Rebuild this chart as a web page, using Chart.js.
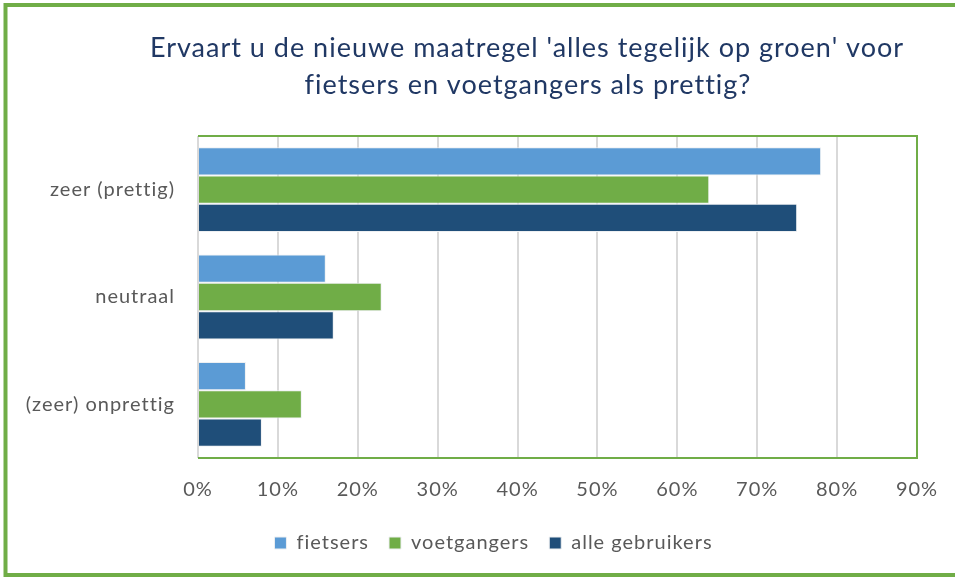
<!DOCTYPE html>
<html>
<head>
<meta charset="utf-8">
<script src="https://cdn.jsdelivr.net/npm/chart.js@4"></script>
<style>
  html, body { margin: 0; padding: 0; background: #fff; }
  #wrap { width: 955px; height: 577px; }
</style>
</head>
<body>
<div id="wrap"><canvas id="maatregelChart" width="955" height="577"></canvas></div>
<script>
// categorieen en percentages per groep
const categorieen = ['zeer (prettig)', 'neutraal', '(zeer) onprettig'];
const fietsers = [78, 16, 6];
const voetgangers = [64, 23, 13];
const alleGebruikers = [75, 17, 8];
const xTicks = [0, 10, 20, 30, 40, 50, 60, 70, 80, 90];
const titelRegels = ["Ervaart u de nieuwe maatregel 'alles tegelijk op groen' voor", 'fietsers en voetgangers als prettig?'];

const groen = '#70ad47';
const grijsTekst = '#595959';

// iets ruimere letters, zoals in het origineel (Calibri)
const spatiePlugin = {
    id: 'spatie',
    beforeLayout(chart) { chart.ctx.letterSpacing = '1px'; },
    afterLayout(chart) {
        // legenda iets naar rechts, zoals in het origineel
        chart.legend.left += 35;
        chart.legend.right += 35;
    },
    beforeDraw(chart) { chart.ctx.letterSpacing = '1px'; }
};

// kaders en titel tekenen
const kaderPlugin = {
    id: 'kader',
    beforeDraw(chart) {
        const ctx = chart.ctx;
        ctx.save();
        ctx.strokeStyle = groen;
        ctx.lineWidth = 4;
        ctx.beginPath();
        ctx.moveTo(960, 5);
        ctx.lineTo(5.5, 5);
        ctx.lineTo(5.5, 575);
        ctx.lineTo(960, 575);
        ctx.stroke();

        // titel
        ctx.fillStyle = '#203864';
        ctx.font = '27px Lato';
        ctx.textAlign = 'center';
        ctx.textBaseline = 'middle';
        ctx.fillText(titelRegels[0], 527, 48);
        ctx.fillText(titelRegels[1], 528, 85);
        ctx.restore();
    },
    afterDatasetsDraw(chart) {
        const { ctx, chartArea: a } = chart;
        ctx.save();
        ctx.strokeStyle = groen;
        ctx.lineWidth = 2;
        ctx.beginPath();
        ctx.moveTo(a.left, a.top);
        ctx.lineTo(a.right, a.top);
        ctx.lineTo(a.right, a.bottom);
        ctx.lineTo(a.left, a.bottom);
        ctx.stroke();
        ctx.restore();
    }
};

const ctx = document.getElementById('maatregelChart').getContext('2d');

new Chart(ctx, {
    type: 'bar',
    data: {
        labels: categorieen,
        datasets: [
            { label: 'fietsers', data: fietsers, backgroundColor: '#5b9bd5' },
            { label: 'voetgangers', data: voetgangers, backgroundColor: '#70ad47' },
            { label: 'alle gebruikers', data: alleGebruikers, backgroundColor: '#1f4e79' }
        ].map(ds => Object.assign(ds, {
            borderColor: '#eef0f2',
            borderWidth: 1,
            categoryPercentage: 0.79,
            barPercentage: 1
        }))
    },
    options: {
        indexAxis: 'y',
        responsive: false,
        animation: false,
        devicePixelRatio: 1,
        layout: { padding: { left: 0, right: 38, top: 136, bottom: 14 } },
        scales: {
            x: {
                min: 0,
                max: 90,
                afterBuildTicks: scale => { scale.ticks = xTicks.map(v => ({ value: v })); },
                afterFit: scale => {
                    scale.height = 55;
                    scale.paddingLeft = 0;
                    scale.paddingRight = 0;
                },
                grid: { color: '#d9d9d9', lineWidth: 2, drawTicks: false },
                border: { display: false },
                ticks: {
                    padding: 20,
                    color: grijsTekst,
                    font: { family: 'Lato', size: 20 },
                    callback: v => v + '%'
                }
            },
            y: {
                afterFit: scale => { scale.width = 198; },
                grid: { display: false, drawTicks: false },
                border: { display: false },
                ticks: {
                    padding: 23,
                    color: grijsTekst,
                    font: { family: 'Lato', size: 20 }
                }
            }
        },
        plugins: {
            title: { display: false },
            legend: {
                position: 'bottom',
                labels: {
                    boxWidth: 12,
                    boxHeight: 12,
                    padding: 20,
                    color: grijsTekst,
                    font: { family: 'Lato', size: 20 }
                }
            },
            tooltip: { enabled: false }
        }
    },
    plugins: [spatiePlugin, kaderPlugin]
});
</script>
</body>
</html>
